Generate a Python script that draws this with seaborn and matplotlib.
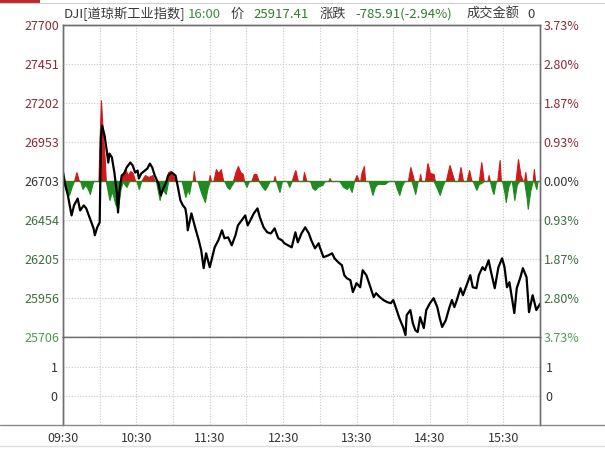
import numpy as np
import pandas as pd
import matplotlib
matplotlib.use("Agg")
import matplotlib.pyplot as plt
import seaborn as sns
from matplotlib.lines import Line2D
from matplotlib.patches import Rectangle

# ---------------- data ----------------
minutes = [0, 2, 4, 7, 9, 12, 14, 17, 19, 22, 25, 26, 28, 30, 31, 32, 34, 36, 37, 38,
           40, 42, 44, 45, 46, 48, 50, 52, 55, 57, 59, 61, 62, 64, 67, 69, 71, 73, 75, 78,
           80, 82, 84, 86, 89, 92, 94, 96, 98, 100, 101, 102, 105, 108, 111, 113, 115, 117, 120, 122,
           124, 127, 130, 132, 135, 138, 141, 143, 146, 149, 151, 154, 156, 159, 161, 164, 167, 170, 173, 176,
           179, 181, 184, 187, 190, 192, 195, 198, 201, 203, 206, 209, 210, 213, 217, 220, 222, 225, 228, 230,
           232, 235, 237, 240, 243, 245, 248, 250, 254, 256, 259, 262, 265, 268, 270, 272, 275, 278, 280, 281,
           284, 286, 288, 290, 292, 295, 297, 300, 303, 306, 308, 310, 313, 316, 318, 320, 322, 325, 327, 330,
           333, 335, 338, 340, 343, 345, 348, 350, 353, 356, 359, 361, 363, 365, 369, 371, 374, 376, 379, 381,
           384, 387, 390]
prices = [26759, 26674, 26611, 26483, 26547, 26591, 26515, 26547, 26528, 26464, 26400, 26356, 26407, 26439, 26980, 27057, 26993, 26884, 26821, 26878,
          26853, 26757, 26630, 26502, 26630, 26738, 26751, 26789, 26821, 26802, 26757, 26770, 26719, 26751, 26770, 26783, 26814, 26789, 26738, 26687,
          26611, 26655, 26687, 26738, 26757, 26738, 26662, 26579, 26547, 26528, 26483, 26388, 26496, 26407, 26324, 26260, 26146, 26241, 26152, 26216,
          26279, 26324, 26388, 26337, 26343, 26292, 26356, 26419, 26451, 26483, 26419, 26464, 26496, 26528, 26470, 26407, 26375, 26368, 26400, 26337,
          26324, 26305, 26292, 26279, 26375, 26311, 26368, 26407, 26368, 26324, 26273, 26305, 26279, 26216, 26228, 26241, 26209, 26184, 26165, 26101,
          26082, 26069, 25993, 26050, 26024, 26133, 26101, 26056, 25961, 25986, 25961, 25942, 25929, 25922, 25942, 25897, 25827, 25770, 25719, 25846,
          25878, 25795, 25750, 25738, 25833, 25763, 25878, 25922, 25954, 25897, 25827, 25770, 25814, 25897, 25942, 25897, 25942, 26018, 25973, 26037,
          26101, 26024, 26018, 26101, 26152, 26133, 26196, 26120, 26018, 26152, 26209, 26152, 26024, 26056, 25859, 26018, 26088, 26146, 26088, 25865,
          25973, 25878, 25917]

red_min = [0, 9, 11, 13, 29, 30, 31, 32, 33, 34, 35, 47, 49, 51, 53, 55, 57, 59, 64, 67,
           70, 73, 75, 84, 86, 88, 90, 92, 106, 107, 108, 119, 120, 121, 123, 125, 127, 129, 131, 139,
           141, 143, 145, 147, 148, 154, 156, 158, 160, 172, 173, 174, 187, 189, 190, 192, 196, 197, 199, 217,
           218, 219, 238, 240, 242, 243, 244, 246, 247, 282, 284, 286, 287, 291, 292, 293, 296, 298, 300, 303,
           304, 313, 316, 318, 320, 323, 325, 327, 330, 332, 334, 340, 342, 344, 347, 348, 349, 355, 357, 358,
           370, 372, 374, 376, 377, 378, 379, 384, 385, 386, 390]
red_val = [0, 0, 57, 0, 0, 287, 516, 382, 255, 159, 0, 0, 51, 76, 38, 64, 51, 0, 0, 38,
           25, 38, 0, 0, 57, 64, 38, 0, 0, 64, 0, 0, 38, 0, 0, 76, 51, 76, 0, 0,
           57, 96, 57, 45, 0, 0, 45, 45, 0, 0, 32, 0, 0, 51, 70, 0, 0, 57, 0, 0,
           19, 0, 0, 38, 0, 0, 51, 96, 0, 0, 89, 32, 0, 0, 45, 0, 0, 115, 51, 45,
           0, 0, 102, 51, 0, 0, 89, 0, 0, 70, 0, 0, 121, 0, 0, 38, 0, 0, 134, 0,
           0, 140, 38, 0, 0, 57, 0, 0, 76, 0, 0]

green_min = [0, 2, 5, 7, 9, 14, 16, 18, 20, 22, 24, 25, 35, 38, 40, 43, 45, 47, 49, 50,
             52, 54, 60, 62, 64, 76, 79, 81, 84, 86, 97, 100, 102, 103, 105, 110, 113, 116, 118, 120,
             132, 134, 136, 138, 140, 148, 150, 152, 160, 163, 165, 167, 169, 174, 177, 179, 183, 185, 187, 202,
             204, 206, 208, 212, 214, 226, 229, 232, 234, 236, 238, 250, 253, 255, 257, 260, 263, 266, 271, 273,
             275, 277, 279, 285, 288, 290, 303, 306, 308, 310, 312, 335, 338, 340, 342, 344, 349, 351, 352, 354,
             359, 361, 362, 364, 366, 367, 369, 371, 373, 377, 379, 380, 382, 384, 385, 387, 388, 390]
green_val = [0, 51, 89, 38, 0, 0, 51, 25, 45, 83, 19, 0, 0, 121, 64, 153, 172, 51, 0, 19,
             38, 0, 0, 51, 0, 0, 121, 51, 83, 0, 0, 102, 51, 83, 0, 0, 76, 134, 51, 0,
             0, 38, 51, 25, 0, 0, 38, 0, 0, 38, 57, 32, 0, 0, 70, 0, 0, 38, 0, 0,
             45, 57, 38, 25, 0, 0, 38, 51, 32, 70, 0, 0, 89, 38, 19, 19, 19, 0, 0, 51,
             89, 32, 0, 0, 83, 0, 0, 51, 89, 38, 0, 0, 57, 19, 13, 0, 0, 64, 83, 0,
             0, 76, 134, 38, 0, 0, 121, 25, 0, 0, 102, 178, 64, 0, 0, 51, 0, 0]

prev_close = 26703
left_labels = ["27700", "27451", "27202", "26953", "26703", "26454", "26205", "25956", "25706"]
right_labels = ["3.73%", "2.80%", "1.87%", "0.93%", "0.00%", "0.93%", "1.87%", "2.80%", "3.73%"]
time_ticks = [0, 60, 120, 180, 240, 300, 360]
time_labels = ["09:30", "10:30", "11:30", "12:30", "13:30", "14:30", "15:30"]
vol_ticks = [0, 1]
vol_labels = ["0", "1"]

# ---------------- style ----------------
sns.set_style("white")
plt.rcParams['font.family'] = ['Noto Sans CJK SC', 'DejaVu Sans']

W, H = 605, 449
fig = plt.figure(figsize=(W / 100, H / 100), dpi=100)
fig.patch.set_facecolor("white")

def fx(px):
    return px / W

def fy(py):
    return 1 - py / H

L, R, T, MID, B = 63, 540, 25, 337, 425
ax = fig.add_axes([fx(L), fy(MID), fx(R - L), (MID - T) / H])
axv = fig.add_axes([fx(L), fy(B), fx(R - L), (B - MID) / H], sharex=ax)

RED_T = "#8c2a35"
GRN_T = "#3b6f3b"
GRN_T2 = "#4f9a4f"
DARK = "#333333"
GRID = "#c8c8c8"
SPINE = "#6e6e6e"

df = pd.DataFrame({"minute": minutes, "price": prices})
rm = np.array(red_min)
rv = np.array(red_val)
gm = np.array(green_min)
gv = np.array(green_val)

ax.fill_between(rm, prev_close, prev_close + rv, facecolor="#d3181a", edgecolor="#d3181a",
                linewidth=0.8, zorder=2)
ax.fill_between(gm, prev_close, prev_close - gv, facecolor="#1f8a1f", edgecolor="#1f8a1f",
                linewidth=0.8, zorder=2)
sns.lineplot(data=df, x="minute", y="price", ax=ax, color="black", linewidth=1.6, zorder=3)

ylo, yhi = 25706, 27700
ax.set_ylim(ylo, yhi)
ax.set_xlim(0, 390)
yt = np.linspace(ylo, yhi, 9)[::-1]
ax.set_yticks(yt)
ax.set_yticklabels(left_labels)
ax.set_xticks(time_ticks)
ax.set_xticks(np.arange(30, 390, 60), minor=True)
ax.grid(True, which="both", axis="x", color=GRID, linestyle=(0, (1, 1.5)), linewidth=0.8)
ax.grid(True, which="major", axis="y", color=GRID, linestyle=(0, (1, 1.5)), linewidth=0.8)
ax.tick_params(axis="x", which="both", length=0, labelbottom=False)
ax.tick_params(axis="y", length=0, pad=2.5, labelsize=9)
ax.set_xlabel("")
ax.set_ylabel("")

ax2 = ax.twinx()
ax2.set_ylim(ylo, yhi)
ax2.set_yticks(yt)
ax2.set_yticklabels(right_labels)
ax2.tick_params(axis="y", length=0, pad=2.5, labelsize=9)
ax2.grid(False)

def label_color(i):
    if i < 4:
        return RED_T
    if i == 4:
        return DARK
    if i == 8:
        return GRN_T2
    return GRN_T

for i, t in enumerate(ax.get_yticklabels()):
    t.set_color(label_color(i))
for i, t in enumerate(ax2.get_yticklabels()):
    t.set_color(label_color(i))

for a in (ax, ax2):
    for s in a.spines.values():
        s.set_color(SPINE)
        s.set_linewidth(1.0)

# lower panel
axv.set_ylim(-1.0, 2.03)
axv.set_yticks(vol_ticks)
axv.set_yticklabels(vol_labels)
axv.set_xticks(time_ticks)
axv.set_xticklabels(time_labels)
axv.set_xticks(np.arange(30, 390, 60), minor=True)
axv.grid(True, which="both", axis="x", color=GRID, linestyle=(0, (1, 1.5)), linewidth=0.8)
axv.grid(True, which="major", axis="y", color=GRID, linestyle=(0, (1, 1.5)), linewidth=0.8)
axv.tick_params(axis="x", which="both", length=0, pad=5, labelsize=9, colors=DARK)
axv.tick_params(axis="y", length=0, pad=4, labelsize=9, colors=DARK)
axv2 = axv.twinx()
axv2.set_ylim(-1.0, 2.03)
axv2.set_yticks(vol_ticks)
axv2.set_yticklabels(vol_labels)
axv2.tick_params(axis="y", length=0, pad=4, labelsize=9, colors=DARK)
for a in (axv, axv2):
    for s in a.spines.values():
        s.set_color(SPINE)
        s.set_linewidth(1.0)
    a.spines["bottom"].set_visible(False)
    a.spines["top"].set_visible(False)

# full width bottom rule and faint frame lines
fig.add_artist(Line2D([0, 1], [fy(B), fy(B)], color="#8a8a8a", linewidth=1.0, transform=fig.transFigure))
fig.add_artist(Line2D([0, 1], [fy(446), fy(446)], color="#dddddd", linewidth=1.0, transform=fig.transFigure))
fig.add_artist(Line2D([0, 1], [fy(2.5), fy(2.5)], color="#d0d0d0", linewidth=0.8, transform=fig.transFigure))
fig.add_artist(Rectangle((0, fy(2.5)), fx(40), 2.5 / H, color="#c0282d", transform=fig.transFigure, linewidth=0))

# title line
fam = ['Noto Sans CJK SC', 'DejaVu Sans']
title_parts = [
    (64, "DJI[道琼斯工业指数]", "#3a3a3a"),
    (188, "16:00", "#3f8a3f"),
    (231, "价", "#3a3a3a"),
    (253, "25917.41", "#2e7d2e"),
    (320, "涨跌", "#3a3a3a"),
    (355, "-785.91(-2.94%)", "#2e7d2e"),
    (467, "成交金额", "#3a3a3a"),
    (527, "0", "#3a3a3a"),
]
for x, s, c in title_parts:
    fig.text(fx(x), fy(14), s, color=c, fontsize=9.5, family=fam, ha="left", va="center")

fig.savefig("out.png", dpi=100, facecolor="white")
